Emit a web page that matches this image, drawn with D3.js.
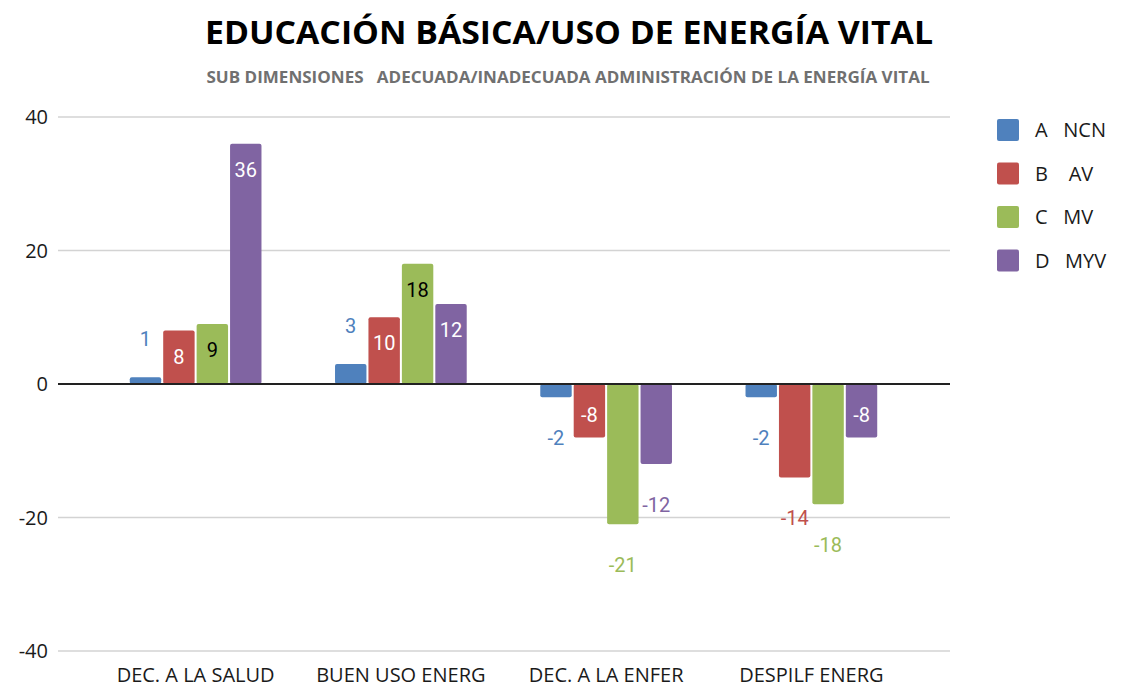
<!DOCTYPE html>
<html>
<head>
<meta charset="utf-8">
<script src="https://cdn.jsdelivr.net/npm/d3@7"></script>
<style>
  html, body { margin: 0; padding: 0; background: #fff; }
  svg text { white-space: pre; }
</style>
</head>
<body>
<svg id="chart" width="1122" height="689"></svg>
<script>
const categories = ["DEC. A LA SALUD", "BUEN USO ENERG", "DEC. A LA ENFER", "DESPILF ENERG"];
const seriesNames = ["A   NCN", "B    AV", "C   MV", "D   MYV"];
const seriesA = [1, 3, -2, -2];
const seriesB = [8, 10, -8, -14];
const seriesC = [9, 18, -21, -18];
const seriesD = [36, 12, -12, -8];
const yTicks = [-40, -20, 0, 20, 40];
// labels that Sheets pushed outside the bar
const labelOutside = [
  [true, false, false, false],
  [true, false, false, false],
  [true, false, true, true],
  [true, true, true, false]
];

const colors = ["#4f81bd", "#c0504d", "#9bbb59", "#8064a2"];
const insideText = ["#ffffff", "#ffffff", "#000000", "#ffffff"];
const series = [seriesA, seriesB, seriesC, seriesD];
const labelFont = "Liberation Sans Narrow, Open Sans, sans-serif";

const svg = d3.select("#chart");
const plot = { left: 58, right: 950, top: 117, bottom: 651 };

svg.append("text")
  .attr("x", 569).attr("y", 44)
  .attr("text-anchor", "middle")
  .attr("font-family", "Open Sans, sans-serif")
  .attr("font-weight", 700)
  .attr("font-size", 33)
  .attr("fill", "#000")
  .attr("textLength", 728)
  .attr("lengthAdjust", "spacingAndGlyphs")
  .text("EDUCACIÓN BÁSICA/USO DE ENERGÍA VITAL");

svg.append("text")
  .attr("x", 568).attr("y", 83)
  .attr("text-anchor", "middle")
  .attr("font-family", labelFont)
  .attr("font-weight", 700)
  .attr("font-size", 16)
  .attr("fill", "#707070")
  .attr("textLength", 723)
  .attr("lengthAdjust", "spacingAndGlyphs")
  .text("SUB DIMENSIONES   ADECUADA/INADECUADA ADMINISTRACIÓN DE LA ENERGÍA VITAL");

const y = d3.scaleLinear().domain([-40, 40]).range([plot.bottom, plot.top]);
const x0 = d3.scaleBand().domain(categories).range([93, 914]).paddingInner(0).paddingOuter(0);
const x1 = d3.scaleBand().domain(d3.range(4)).range([0, x0.bandwidth()]).paddingInner(0.06).paddingOuter(1.1);

svg.append("g")
  .selectAll("line")
  .data(yTicks.filter(d => d !== 0))
  .join("line")
  .attr("x1", plot.left).attr("x2", plot.right)
  .attr("y1", d => y(d)).attr("y2", d => y(d))
  .attr("stroke", "#d3d3d3")
  .attr("stroke-width", 1.5);

svg.append("g")
  .selectAll("text")
  .data(yTicks)
  .join("text")
  .attr("x", 48)
  .attr("y", d => y(d) + 7)
  .attr("text-anchor", "end")
  .attr("font-family", labelFont)
  .attr("font-size", 20)
  .attr("fill", "#1a1a1a")
  .text(d => d);

const bars = [];
series.forEach((vals, si) => vals.forEach((v, ci) => bars.push({ si, ci, v })));

svg.append("g")
  .selectAll("rect")
  .data(bars)
  .join("rect")
  .attr("x", d => x0(categories[d.ci]) + x1(d.si))
  .attr("width", x1.bandwidth())
  .attr("y", d => Math.min(y(d.v), y(0)))
  .attr("height", d => Math.abs(y(d.v) - y(0)))
  .attr("rx", 2)
  .attr("fill", d => colors[d.si]);

svg.append("line")
  .attr("x1", plot.left).attr("x2", plot.right)
  .attr("y1", y(0)).attr("y2", y(0))
  .attr("stroke", "#222")
  .attr("stroke-width", 2);

svg.append("g")
  .selectAll("text")
  .data(bars)
  .join("text")
  .attr("x", d => x0(categories[d.ci]) + x1(d.si) + x1.bandwidth() / 2)
  .attr("y", d => {
    const out = labelOutside[d.ci][d.si];
    if (d.v >= 0) return out ? y(d.v) - 38 + 7 : y(d.v) + 26 + 7;
    return out ? y(d.v) + 41 + 7 : y(d.v) - 22 + 7;
  })
  .attr("text-anchor", "middle")
  .attr("font-family", "Roboto, sans-serif")
  .attr("font-size", 20)
  .attr("fill", d => labelOutside[d.ci][d.si] ? colors[d.si] : insideText[d.si])
  .text(d => d.v);

svg.append("g")
  .selectAll("text")
  .data(categories)
  .join("text")
  .attr("x", d => x0(d) + x0.bandwidth() / 2)
  .attr("y", 682)
  .attr("text-anchor", "middle")
  .attr("font-family", labelFont)
  .attr("font-size", 20)
  .attr("fill", "#1a1a1a")
  .text(d => d);

const legend = svg.append("g")
  .selectAll("g")
  .data(seriesNames)
  .join("g")
  .attr("transform", (d, i) => `translate(997,${119 + i * 43.5})`);

legend.append("rect")
  .attr("width", 22).attr("height", 22).attr("rx", 2)
  .attr("fill", (d, i) => colors[i]);

legend.append("text")
  .attr("x", 38).attr("y", 18)
  .attr("font-family", labelFont)
  .attr("font-size", 20)
  .attr("fill", "#1a1a1a")
  .text(d => d);
</script>
</body>
</html>
